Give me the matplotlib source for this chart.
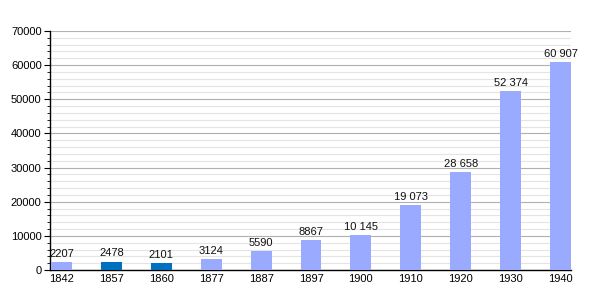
import matplotlib
matplotlib.use("Agg")
import matplotlib.pyplot as plt
from matplotlib.ticker import MultipleLocator

years = ["1842", "1857", "1860", "1877", "1887", "1897", "1900", "1910", "1920", "1930", "1940"]
population = [2207, 2478, 2101, 3124, 5590, 8867, 10145, 19073, 28658, 52374, 60907]
labels = ["2207", "2478", "2101", "3124", "5590", "8867", "10 145", "19 073", "28 658", "52 374", "60 907"]
highlight = ["1857", "1860"]

plt.rcParams['font.family'] = ['Liberation Sans', 'DejaVu Sans']

fig = plt.figure(figsize=(6, 3), dpi=100)
ax = fig.add_axes([50/600, 30/300, 521/600, 239/300])

light = '#9aabff'
dark = '#0070c0'
colors = [dark if y in highlight else light for y in years]
x = range(len(years))
w = 0.42
ax.bar([i + 0.02 for i in x], population, width=w, align='edge', color=colors, zorder=3)

for i, (v, t) in enumerate(zip(population, labels)):
    ax.text(i + 0.02 + w/2, v + 900, t, ha='center', va='bottom', fontsize=8, color='#111111', zorder=4)

ax.set_xlim(0, len(years) - 1 + 0.02 + w)
ax.set_ylim(0, 70000)
ax.set_xticks([i + 0.02 + w/2 for i in x])
ax.set_xticklabels(years)
ax.set_yticks(range(0, 70001, 10000))
ax.yaxis.set_minor_locator(MultipleLocator(2000))
ax.tick_params(axis='x', length=0, labelsize=8, pad=3)
ax.tick_params(axis='y', which='major', length=4, labelsize=8, pad=2)
ax.tick_params(axis='y', which='minor', length=2.5)

ax.grid(axis='y', which='major', color='#b0b0b0', linewidth=0.8, zorder=0)
ax.grid(axis='y', which='minor', color='#e4e4e4', linewidth=0.8, zorder=0)

for s in ['top', 'right']:
    ax.spines[s].set_visible(False)
ax.spines['left'].set_linewidth(1)
ax.spines['bottom'].set_linewidth(1)

fig.savefig("out.png", dpi=100)
